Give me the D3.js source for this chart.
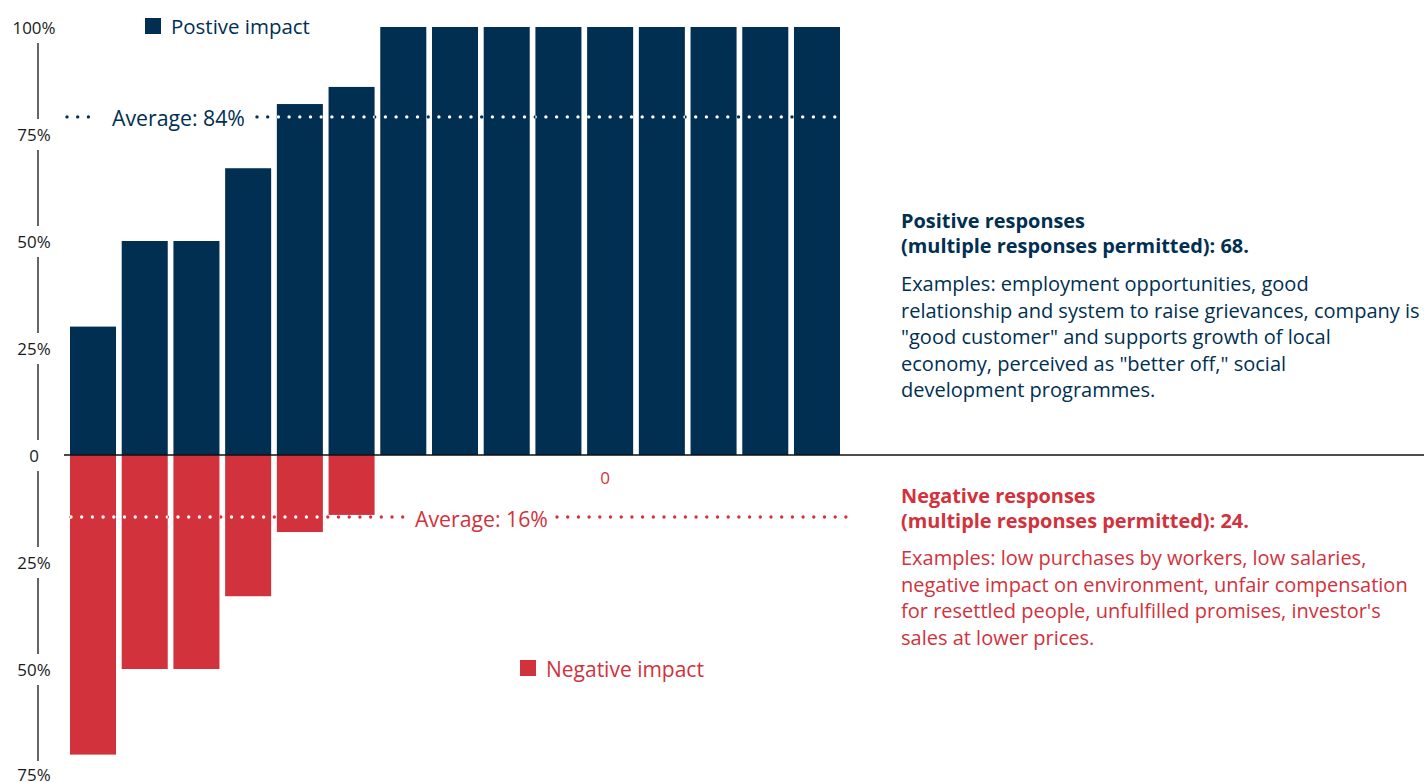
<!DOCTYPE html>
<html>
<head>
<meta charset="utf-8">
<script src="https://cdn.jsdelivr.net/npm/d3@7/dist/d3.min.js"></script>
<style>
html,body{margin:0;padding:0;background:#fff;}
svg{display:block;font-family:"Open Sans", "Noto Sans", sans-serif;}
</style>
</head>
<body>
<svg id="chart" width="1424" height="782"></svg>
<script>
// ---- data ----
const categories = ["R1","R2","R3","R4","R5","R6","R7","R8","R9","R10","R11","R12","R13","R14","R15"];
const positiveValues = [30, 50, 50, 67, 82, 86, 100, 100, 100, 100, 100, 100, 100, 100, 100];
const negativeValues = [70, 50, 50, 33, 18, 14, 0, 0, 0, 0, 0, 0, 0, 0, 0];
const yTickValues = [100, 75, 50, 25, 0, -25, -50, -75];
const yTickLabels = ["100%", "75%", "50%", "25%", "0", "25%", "50%", "75%"];
const averageLabels = ["Average: 84%", "Average: 16%"];
const averageLineLevels = [79, -14.5];
const legendLabels = ["Postive impact", "Negative impact"];
const positiveHeading = ["Positive responses", "(multiple responses permitted): 68."];
const positiveBody = ["Examples: employment opportunities, good",
  "relationship and system to raise grievances, company is",
  "\"good customer\" and supports growth of local",
  "economy, perceived as \"better off,\" social",
  "development programmes."];
const negativeHeading = ["Negative responses", "(multiple responses permitted): 24."];
const negativeBody = ["Examples: low purchases by workers, low salaries,",
  "negative impact on environment, unfair compensation",
  "for resettled people, unfulfilled promises, investor's",
  "sales at lower prices."];
const zeroNote = "0";

// ---- style ----
const NAVY = "#002f52";
const RED = "#d1323c";
const AXIS_TEXT = "#1a1a1a";

const svg = d3.select("#chart");

// scale a group of texts so that the widest one has the target width
function fitGroup(sel, targetWidth, baseSize) {
  sel.attr("font-size", baseSize);
  let maxW = 0;
  sel.each(function() { maxW = Math.max(maxW, this.getComputedTextLength()); });
  if (maxW > 0) sel.attr("font-size", baseSize * targetWidth / maxW);
}

const x = d3.scaleBand().domain(categories).range([70, 840]).paddingInner(0.11).paddingOuter(0);
const y = d3.scaleLinear().domain([-75, 100]).range([776, 27]);

// clip path made of the bars (for white dots over bars)
const defs = svg.append("defs");
const clip = defs.append("clipPath").attr("id", "barsClip");
clip.selectAll("rect.p").data(categories).join("rect")
  .attr("x", d => x(d)).attr("width", x.bandwidth())
  .attr("y", (d,i) => y(positiveValues[i])).attr("height", (d,i) => y(0) - y(positiveValues[i]));
clip.selectAll("rect.n").data(categories).join("rect")
  .attr("x", d => x(d)).attr("width", x.bandwidth())
  .attr("y", y(0)).attr("height", (d,i) => y(-negativeValues[i]) - y(0));

// y axis: labels with line segments between
const axisX = 34;
const gAxis = svg.append("g");
for (let i = 0; i < yTickValues.length - 1; i++) {
  const y1 = y(yTickValues[i]) + 16, y2 = y(yTickValues[i+1]) - 15;
  gAxis.append("line").attr("x1", axisX + 4).attr("x2", axisX + 4).attr("y1", y1).attr("y2", y2)
    .attr("stroke", "#111").attr("stroke-width", 1.3);
}
const tickTexts = gAxis.selectAll("text").data(yTickValues).join("text")
  .attr("x", axisX).attr("y", (d,i) => y(d) + (i === yTickValues.length - 1 ? -1 : 1)).attr("dy", "0.36em")
  .attr("text-anchor", "middle").attr("fill", AXIS_TEXT)
  .text((d,i) => yTickLabels[i]);
fitGroup(tickTexts, 43, 15);

// bars
svg.append("g").selectAll("rect").data(categories).join("rect")
  .attr("x", d => x(d)).attr("width", x.bandwidth())
  .attr("y", (d,i) => y(positiveValues[i])).attr("height", (d,i) => y(0) - y(positiveValues[i]))
  .attr("fill", NAVY);
svg.append("g").selectAll("rect").data(categories).join("rect")
  .attr("x", d => x(d)).attr("width", x.bandwidth())
  .attr("y", y(0)).attr("height", (d,i) => y(-negativeValues[i]) - y(0))
  .attr("fill", RED);

// zero line
svg.append("line").attr("x1", 64).attr("x2", 1424).attr("y1", y(0)).attr("y2", y(0))
  .attr("stroke", "#111").attr("stroke-width", 1.4);

// average lines (dotted)
const x0 = x.range()[0], x1 = x.range()[1];
const avgSegments = [
  { level: averageLineLevels[0], color: NAVY, segs: [[x0 - 3, x0 + 28], [x0 + 187, x1]] },
  { level: averageLineLevels[1], color: RED, segs: [[x0 + 1, x0 + 336], [x0 + 487, x1 + 13]] }
];
avgSegments.forEach(a => {
  a.segs.forEach(s => {
    const yy = y(a.level);
    svg.append("line").attr("x1", s[0]).attr("x2", s[1]).attr("y1", yy).attr("y2", yy)
      .attr("stroke", a.color).attr("stroke-width", 3.4).attr("stroke-linecap", "round")
      .attr("stroke-dasharray", "0 10.7");
    svg.append("line").attr("x1", s[0]).attr("x2", s[1]).attr("y1", yy).attr("y2", yy)
      .attr("clip-path", "url(#barsClip)")
      .attr("stroke", "#fff").attr("stroke-width", 3.4).attr("stroke-linecap", "round")
      .attr("stroke-dasharray", "0 10.7");
  });
});
const avg1 = svg.append("text").attr("x", x0 + 42).attr("y", y(averageLineLevels[0]) + 1).attr("dy", "0.36em")
  .attr("fill", NAVY).text(averageLabels[0]);
fitGroup(avg1, 133, 18);
const avg2 = svg.append("text").attr("x", x0 + 345).attr("y", y(averageLineLevels[1]) + 2).attr("dy", "0.36em")
  .attr("fill", RED).text(averageLabels[1]);
fitGroup(avg2, 133, 18);

// "0" note
svg.append("text").attr("x", 605).attr("y", y(0) + 23).attr("dy", "0.36em")
  .attr("text-anchor", "middle").attr("font-size", 17).attr("fill", RED).text(zeroNote);

// legends
const legends = [
  { label: legendLabels[0], color: NAVY, x: 145, y: 26, w: 139 },
  { label: legendLabels[1], color: RED, x: 520, y: 668, w: 158 }
];
legends.forEach(l => {
  svg.append("rect").attr("x", l.x).attr("y", l.y - 8).attr("width", 16).attr("height", 16).attr("fill", l.color);
  const t = svg.append("text").attr("x", l.x + 26).attr("y", l.y + 1).attr("dy", "0.36em")
    .attr("fill", l.color).text(l.label);
  fitGroup(t, l.w, 18);
});

// annotation blocks
function block(heading, body, color, top, bodyTop, headW, bodyW) {
  const g = svg.append("g");
  const h = g.selectAll("text.h").data(heading).join("text").attr("class", "h")
    .attr("x", 901).attr("y", (t, i) => top + i * 25).attr("dy", "0.36em")
    .attr("font-weight", 700).attr("fill", color).text(t => t);
  fitGroup(h, headW, 18);
  const b = g.selectAll("text.b").data(body).join("text").attr("class", "b")
    .attr("x", 901).attr("y", (t, i) => bodyTop + i * 26.5).attr("dy", "0.36em")
    .attr("fill", color).text(t => t);
  fitGroup(b, bodyW, 18);
}
block(positiveHeading, positiveBody, NAVY, 221, 284, 348, 519);
block(negativeHeading, negativeBody, RED, 496, 558, 348, 507);
</script>
</body>
</html>
